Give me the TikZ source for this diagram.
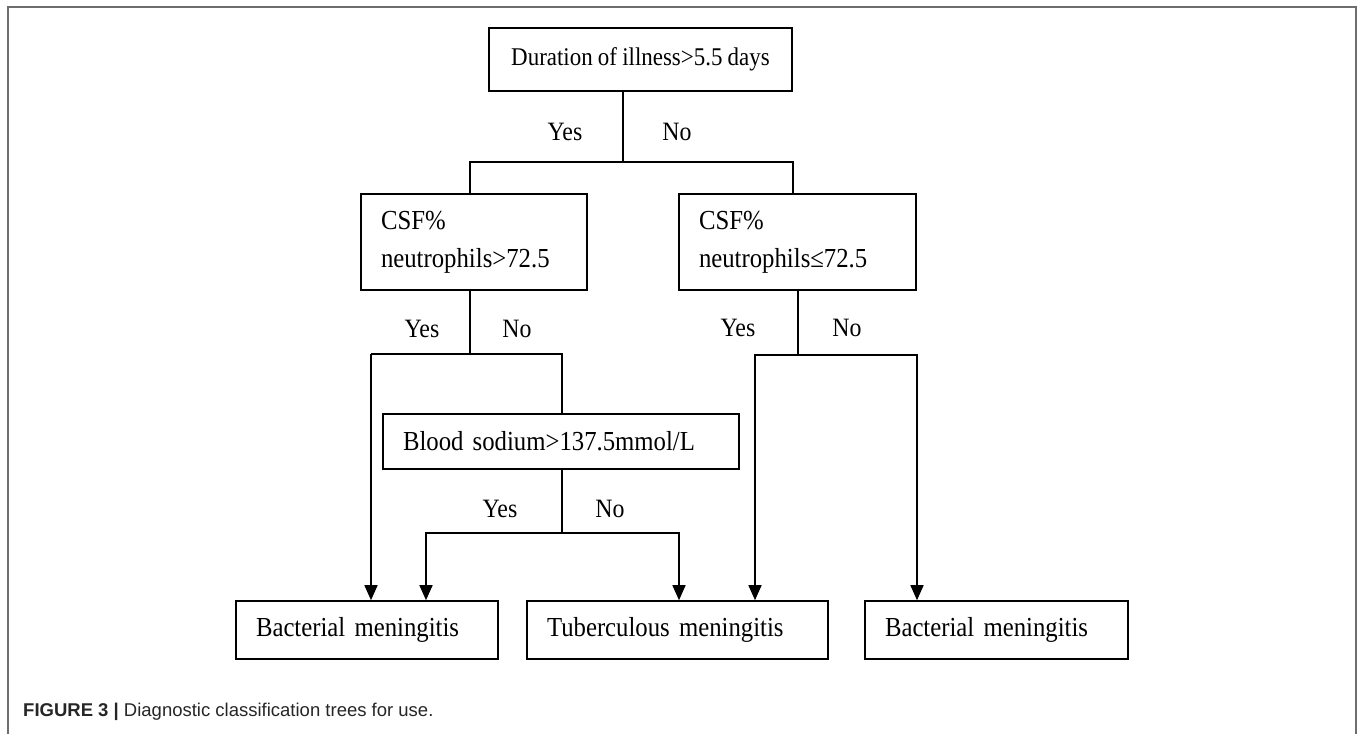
\documentclass[tikz,border=0pt]{standalone}
\usepackage{fontspec}
\setmainfont{Liberation Serif}[FakeStretch=0.9, WordSpace=0.9]
\newfontfamily\capfont{Liberation Sans}
\usepackage{tikz}
\usetikzlibrary{arrows.meta}
\definecolor{framegray}{HTML}{6E6E6E}
\definecolor{capgray}{HTML}{262626}
\tikzset{
  box/.style={draw, rectangle, line width=1.6pt, inner xsep=20pt, inner ysep=0pt,
    align=left, font=\fontsize{27.5}{38}\selectfont},
  lbl/.style={font=\fontsize{26.5}{28}\selectfont, inner sep=0pt},
  link/.style={line width=1.6pt},
  arr/.style={line width=1.6pt, -{Triangle[length=15pt,width=13pt]}},
}
\begin{document}
\begin{tikzpicture}[x=1pt,y=1pt]
     % diagnostic classification tree
     \useasboundingbox (0,0) rectangle (1357,-734);
     \draw[framegray, line width=2pt] (7.5,-734) -- (7.5,-6.5) -- (1356,-6.5) -- (1356,-734);
     \node[draw, line width=1.6pt, inner sep=0pt, minimum width=303pt, minimum height=63pt,
       font=\fontsize{25.5}{28}\selectfont] (dur) at (640.5,-59.5) {Duration of illness>5.5 days};
     \node[box, text width=186pt, minimum height=96pt] (csfL) at (474,-242) {CSF\%\\neutrophils>72.5};
     \node[box, text width=197pt, minimum height=96pt] (csfR) at (797.5,-242) {CSF\%\\neutrophils≤72.5};
     \node[box, text width=316pt, minimum height=55pt] (blood) at (561,-441.5) {Blood sodium>137.5mmol/L};
     \node[box, text width=222pt, minimum height=58pt] (bac1) at (367,-630) {Bacterial meningitis};
     \node[box, text width=261pt, minimum height=58pt] (tub) at (677.5,-630) {Tuberculous meningitis};
     \node[box, text width=223pt, minimum height=58pt] (bac2) at (996.5,-630) {Bacterial meningitis};
     % branch points
     \coordinate (k1) at (623,-162);
     \coordinate (k1L) at (470,-162);
     \coordinate (k1R) at (793,-162);
     \coordinate (k2) at (470,-354);
     \coordinate (k2L) at (371,-354);
     \coordinate (k2R) at (562,-354);
     \coordinate (k3) at (562,-533);
     \coordinate (k3L) at (426,-533);
     \coordinate (k3R) at (679,-533);
     \coordinate (k4) at (798,-355);
     \coordinate (k4L) at (755,-355);
     \coordinate (k4R) at (917,-355);
     \draw[link] (dur.south -| k1) -- (k1);
     \draw[link] (csfL.north -| k1L) -- (k1L) -- (k1R) -- (csfR.north -| k1R);
     \draw[link] (csfL.south -| k2) -- (k2);
     \draw[link] (k2L) -- (k2R) -- (blood.north -| k2R);
     \draw[arr] (k2L) -- (bac1.north -| k2L);
     \draw[link] (blood.south -| k3) -- (k3);
     \draw[arr] (k3) -- (k3L) -- (bac1.north -| k3L);
     \draw[arr] (k3) -- (k3R) -- (tub.north -| k3R);
     \draw[link] (csfR.south -| k4) -- (k4);
     \draw[arr] (k4) -- (k4L) -- (tub.north -| k4L);
     \draw[arr] (k4) -- (k4R) -- (bac2.north -| k4R);
     % yes / no labels
     \node[lbl] (y1) at (565,-132) {Yes};
     \node[lbl] (n1) at (677,-132) {No};
     \node[lbl] (y2) at (422,-329) {Yes};
     \node[lbl] (n2) at (517,-329) {No};
     \node[lbl] (y3) at (738,-328) {Yes};
     \node[lbl] (n3) at (847,-328) {No};
     \node[lbl] (y4) at (500,-509) {Yes};
     \node[lbl] (n4) at (610,-509) {No};
     \node[anchor=west, inner sep=0pt, text=capgray, font=\capfont\fontsize{18.5}{22}\selectfont]
       (cap) at (23,-712) {\textbf{FIGURE 3 |} Diagnostic classification trees for use.};
\end{tikzpicture}
\end{document}
